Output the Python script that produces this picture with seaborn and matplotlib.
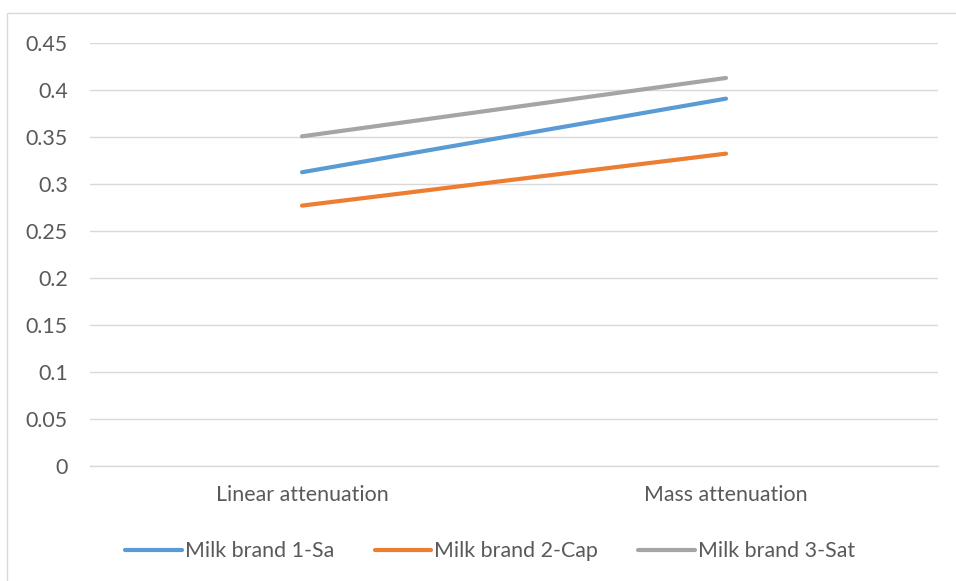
import matplotlib
matplotlib.use("Agg")
import matplotlib.pyplot as plt
from matplotlib.patches import Rectangle
from matplotlib.lines import Line2D
import seaborn as sns
import pandas as pd

# Attenuation measurements per milk brand
categories = ["Linear attenuation", "Mass attenuation"]
brand_1_sa = [0.3125, 0.3908]
brand_2_cap = [0.2770, 0.3323]
brand_3_sat = [0.3507, 0.4128]
series_names = ["Milk brand 1-Sa", "Milk brand 2-Cap", "Milk brand 3-Sat"]
y_ticks = [0, 0.05, 0.1, 0.15, 0.2, 0.25, 0.3, 0.35, 0.4, 0.45]
y_tick_labels = ["0", "0.05", "0.1", "0.15", "0.2", "0.25", "0.3", "0.35", "0.4", "0.45"]

colors = ["#5B9BD5", "#ED7D31", "#A5A5A5"]
text_color = "#595959"
grid_color = "#D9D9D9"
font_size = 15.4

rows = []
for name, vals in zip(series_names, [brand_1_sa, brand_2_cap, brand_3_sat]):
    for cat, v in zip(categories, vals):
        rows.append({"category": cat, "value": v, "series": name})
df = pd.DataFrame(rows)

sns.set_theme(style="white")
plt.rcParams["font.family"] = ["Lato", "DejaVu Sans"]

W, H = 956, 581
fig = plt.figure(figsize=(W / 100, H / 100), dpi=100)
ax = fig.add_axes([90 / W, (H - 466) / H, (938 - 90) / W, (466 - 43) / H])

sns.lineplot(data=df, x="category", y="value", hue="series",
             palette=colors, hue_order=series_names, linewidth=3.0,
             ax=ax, legend=False, sort=False)
for line in ax.get_lines():
    line.set_solid_capstyle("round")

ax.set_xlim(-0.5, 1.5)
ax.set_ylim(0, 0.45)
ax.set_yticks(y_ticks)
ax.set_yticklabels(y_tick_labels)
ax.set_xticks(range(len(categories)))
ax.set_xticklabels(categories)
ax.set_xlabel("")
ax.set_ylabel("")

ax.yaxis.grid(True, color=grid_color, linewidth=1.0)
ax.set_axisbelow(True)
for side in ["top", "right", "left"]:
    ax.spines[side].set_visible(False)
ax.spines["bottom"].set_color(grid_color)
ax.spines["bottom"].set_linewidth(1.0)

ax.tick_params(axis="y", length=0, pad=16, labelsize=font_size, labelcolor=text_color)
ax.tick_params(axis="x", length=0, pad=14, labelsize=font_size, labelcolor=text_color)

# Legend below the plot
handles = [Line2D([0], [0], color=c, linewidth=3.0, solid_capstyle="round") for c in colors]
fig.legend(handles, series_names, loc="center", bbox_to_anchor=(490 / W, (H - 551) / H),
           ncol=3, frameon=False, fontsize=font_size, handlelength=2.65, handletextpad=0.12,
           columnspacing=1.9, labelcolor=text_color)

# Chart area border
fig.patches.append(Rectangle((7 / W, -0.1), 1.1, (H - 13) / H + 0.1, transform=fig.transFigure,
                             fill=False, edgecolor=grid_color, linewidth=1.0))

fig.savefig("out.png", dpi=100)
